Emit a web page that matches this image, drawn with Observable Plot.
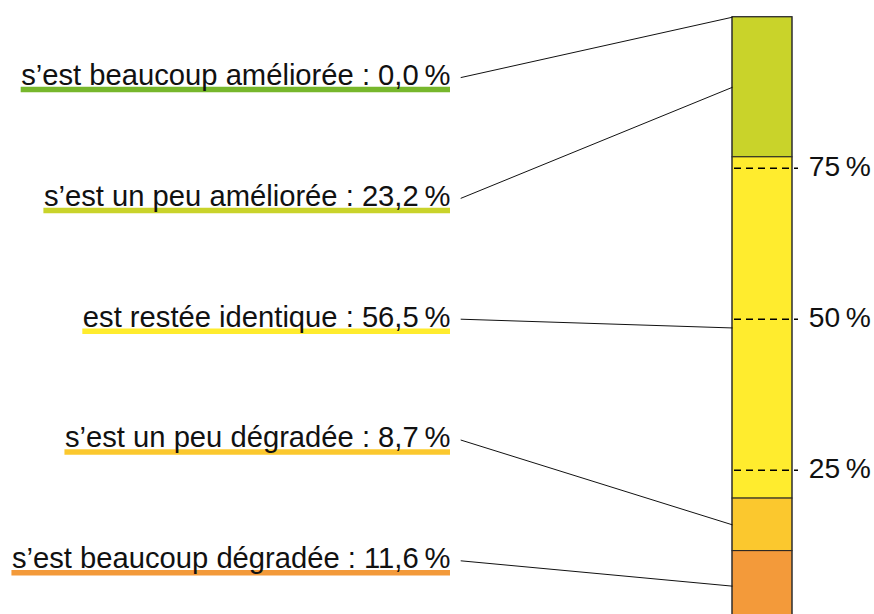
<!DOCTYPE html>
<html><head><meta charset="utf-8">
<script src="https://cdn.jsdelivr.net/npm/d3@7"></script>
<script src="https://cdn.jsdelivr.net/npm/@observablehq/plot@0.6"></script>
<style>body{margin:0;background:#fff;} #chart svg{display:block;}</style>
</head><body><div id="chart"></div>
<script>
const categories = ["s’est beaucoup améliorée", "s’est un peu améliorée", "est restée identique", "s’est un peu dégradée", "s’est beaucoup dégradée"];
const values = [0.0, 23.2, 56.5, 8.7, 11.6];
const valueLabels = ["0,0", "23,2", "56,5", "8,7", "11,6"];
const colors = ["#77b72c", "#c9d32a", "#ffec2e", "#fbc82e", "#f39a3a"];
const labelSlots = [90, 70, 50, 30, 10];
const tickValues = [25, 50, 75];
const tickLabels = ["25\u2009%", "50\u2009%", "75\u2009%"];

const FONT = "Liberation Sans, Arial, sans-serif";
const FS = 29.2;
const PX_PER_UNIT = 60;           // bar width in px (x domain [0,1])
const labelX = -4.7, leaderX = -4.53, tickLabelX = 1.27, dashEnd = 1.1;

// stack bottom-up (last category at the bottom)
const n = categories.length;
const segs = [];
let acc = 0;
for (let i = n - 1; i >= 0; i--) {
  segs[i] = {y1: acc, y2: acc + values[i]};
  acc += values[i];
}
const ctx = document.createElement("canvas").getContext("2d");
ctx.font = `${FS}px ${FONT}`;
const rows = categories.map((c, i) => {
  const text = `${c} : ${valueLabels[i]}\u2009%`;
  return {
    cat: c, text, color: colors[i], slot: labelSlots[i],
    y1: segs[i].y1, y2: segs[i].y2, mid: (segs[i].y1 + segs[i].y2) / 2,
    w: ctx.measureText(text).width
  };
});

const chart = Plot.plot({
  width: 874, height: 614,
  style: {fontFamily: FONT, background: "white", overflow: "visible"},
  x: {domain: [0, 1], range: [732, 792], axis: null},
  y: {domain: [0, 100], range: [620.7, 16.7], axis: null},
  color: {type: "identity"},
  marks: [
    Plot.rect(rows, {x1: 0, x2: 1, y1: "y1", y2: "y2", fill: "color", stroke: "#222", strokeWidth: 1}),
    Plot.ruleY(tickValues, {y: d => d, x1: 0, x2: dashEnd, stroke: "#000", strokeWidth: 1.4, strokeDasharray: "7,5", strokeDashoffset: -2}),
    Plot.rect(rows.slice(0, 1), {x1: 0, x2: 1, y1: 100, y2: 0, fill: "none", stroke: "#333", strokeWidth: 1}),
    Plot.link(rows, {x1: leaderX, y1: "slot", x2: 0, y2: "mid", stroke: "#111", strokeWidth: 1}),
    Plot.ruleY(rows, {y: "slot", x1: d => labelX - d.w / PX_PER_UNIT, x2: labelX, stroke: "color", strokeWidth: 5.5, dy: 12}),
    Plot.text(rows, {x: labelX, y: "slot", dy: -2, text: "text", textAnchor: "end", fontSize: FS, fill: "#111"}),
    Plot.text(tickValues, {x: tickLabelX, y: d => d, dy: -1, text: (d, i) => tickLabels[i], textAnchor: "start", fontSize: 28.2, fill: "#111"})
  ]
});
document.getElementById("chart").appendChild(chart);
</script>
</body></html>
